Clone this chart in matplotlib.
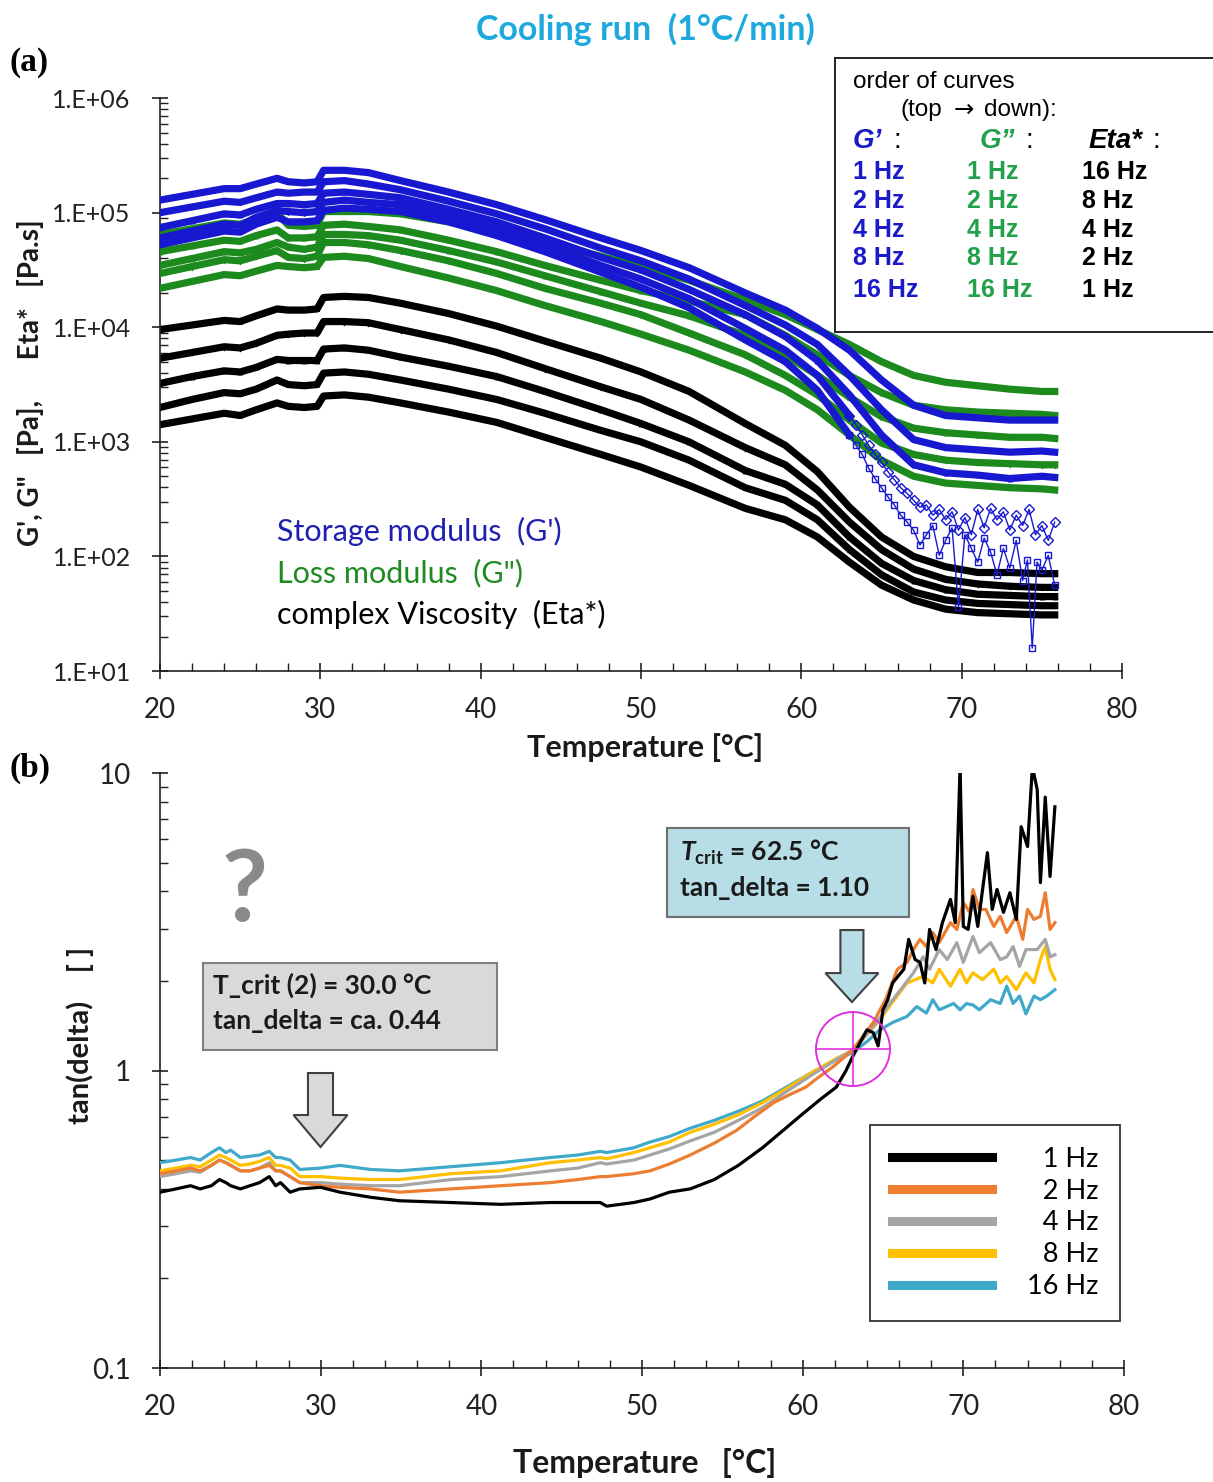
import numpy as np
import matplotlib
matplotlib.use('Agg')
import matplotlib.pyplot as plt
from matplotlib.patches import Rectangle, FancyArrow, Ellipse
from matplotlib.ticker import FuncFormatter, MultipleLocator, LogLocator, NullFormatter, FixedLocator

plt.rcParams['font.family'] = ['Lato', 'DejaVu Sans']
plt.rcParams['mathtext.fontset'] = 'custom'
plt.rcParams['mathtext.it'] = 'Lato:italic:bold'
plt.rcParams['mathtext.rm'] = 'Lato:bold'

# ---------------- panel (a): moduli / viscosity, log10 values
T_a = [20, 22, 24, 25, 26, 27.3, 28, 29, 29.8, 30.2, 31.5, 33, 35, 38, 41, 44, 47.5, 50,
       53, 56.5, 59, 61, 63, 65, 67, 69, 71, 73, 75, 75.8]

# G' (storage modulus), top -> down: 1, 2, 4, 8, 16 Hz
gp_1hz = [5.11, 5.16, 5.21, 5.21, 5.25, 5.30, 5.27, 5.26, 5.27, 5.37, 5.37, 5.35, 5.28, 5.18, 5.07,
          4.94, 4.78, 4.67, 4.52, 4.30, 4.15, 3.99, 3.80, 3.54, 3.32, 3.23, 3.21, 3.19, 3.19, 3.19]
gp_2hz = [5.00, 5.05, 5.10, 5.09, 5.13, 5.18, 5.17, 5.18, 5.18, 5.27, 5.28, 5.25, 5.20, 5.10, 4.99,
          4.86, 4.69, 4.58, 4.42, 4.19, 4.02, 3.85, 3.58, 3.28, 3.02, 2.95, 2.93, 2.91, 2.92, 2.91]
gp_4hz = [4.87, 4.93, 4.99, 4.98, 5.03, 5.08, 5.08, 5.07, 5.08, 5.17, 5.18, 5.16, 5.13, 5.03, 4.92,
          4.78, 4.61, 4.50, 4.33, 4.11, 3.92, 3.71, 3.41, 3.06, 2.80, 2.73, 2.71, 2.68, 2.70, 2.69]
gp_8hz = [4.78, 4.84, 4.90, 4.89, 4.96, 5.02, 5.01, 5.00, 5.01, 5.09, 5.11, 5.09, 5.07, 4.97, 4.86,
          4.72, 4.54, 4.42, 4.25, 3.99, 3.80, 3.58, 3.23]
gp_16hz = [4.72, 4.78, 4.84, 4.83, 4.90, 4.96, 4.92, 4.92, 4.93, 5.02, 5.04, 5.03, 5.01, 4.92, 4.80,
           4.66, 4.48, 4.35, 4.17, 3.89, 3.70, 3.45, 3.06]
tail_T_8hz = [63.4, 63.8, 64.2, 64.6, 65.0, 65.4, 65.8, 66.2, 66.6, 67.0, 67.4, 67.8, 68.2, 68.6,
              69.0, 69.4, 69.8, 70.2, 70.6, 71.0, 71.4, 71.8, 72.2, 72.6, 73.0, 73.4, 73.8, 74.2,
              74.6, 75.0, 75.4, 75.8]
gp_8hz_tail = [3.15, 3.06, 2.97, 2.89, 2.82, 2.74, 2.67, 2.60, 2.55, 2.49, 2.43, 2.45, 2.36, 2.41,
               2.32, 2.39, 2.23, 2.34, 2.19, 2.41, 2.25, 2.42, 2.32, 2.39, 2.23, 2.36, 2.27, 2.41,
               2.19, 2.27, 2.14, 2.30]
tail_T_16hz = [63.4, 63.8, 64.2, 64.6, 65.0, 65.4, 65.8, 66.2, 66.6, 67.0, 67.4, 67.8, 68.2, 68.6,
               69.0, 69.4, 69.8, 70.2, 70.6, 71.0, 71.4, 71.8, 72.2, 72.6, 73.0, 73.4, 73.8, 74.1,
               74.4, 74.7, 75.0, 75.4, 75.8]
gp_16hz_tail = [2.97, 2.89, 2.77, 2.68, 2.60, 2.52, 2.45, 2.36, 2.30, 2.23, 2.10, 2.19, 2.27, 2.01,
                2.14, 2.25, 1.56, 2.19, 2.07, 1.95, 2.16, 2.04, 1.84, 2.07, 1.90, 2.14, 1.79, 1.97,
                1.20, 1.95, 1.88, 2.01, 1.75]

# G'' (loss modulus), top -> down: 1, 2, 4, 8, 16 Hz
gpp_1hz = [4.81, 4.86, 4.91, 4.90, 4.94, 5.00, 4.89, 4.88, 4.89, 5.01, 5.01, 5.01, 4.99, 4.92, 4.83,
           4.74, 4.62, 4.53, 4.41, 4.24, 4.11, 3.98, 3.85, 3.70, 3.58, 3.52, 3.49, 3.46, 3.44, 3.44]
gpp_2hz = [4.66, 4.71, 4.76, 4.75, 4.80, 4.85, 4.78, 4.78, 4.79, 4.89, 4.90, 4.88, 4.85, 4.76, 4.66,
           4.54, 4.41, 4.32, 4.23, 4.11, 3.93, 3.76, 3.58, 3.43, 3.32, 3.28, 3.26, 3.25, 3.24, 3.23]
gpp_4hz = [4.54, 4.60, 4.66, 4.65, 4.68, 4.74, 4.70, 4.68, 4.70, 4.81, 4.81, 4.80, 4.76, 4.67, 4.57,
           4.45, 4.31, 4.21, 4.10, 3.93, 3.76, 3.58, 3.39, 3.22, 3.12, 3.08, 3.06, 3.04, 3.04, 3.03]
gpp_8hz = [4.47, 4.53, 4.59, 4.58, 4.62, 4.67, 4.61, 4.60, 4.62, 4.74, 4.74, 4.72, 4.67, 4.58, 4.47,
           4.34, 4.21, 4.11, 3.95, 3.76, 3.58, 3.41, 3.19, 2.99, 2.89, 2.84, 2.82, 2.81, 2.80, 2.80]
gpp_16hz = [4.34, 4.40, 4.46, 4.45, 4.49, 4.54, 4.53, 4.52, 4.53, 4.61, 4.62, 4.60, 4.53, 4.43, 4.32,
            4.19, 4.05, 3.94, 3.80, 3.61, 3.45, 3.28, 3.06, 2.84, 2.70, 2.64, 2.62, 2.60, 2.59, 2.58]

# Eta* (complex viscosity), top -> down: 16, 8, 4, 2, 1 Hz
eta_16hz = [3.98, 4.02, 4.06, 4.05, 4.10, 4.16, 4.15, 4.15, 4.16, 4.26, 4.27, 4.26, 4.21, 4.12, 4.01,
            3.88, 3.73, 3.61, 3.44, 3.16, 2.97, 2.74, 2.43, 2.17, 2.00, 1.91, 1.86, 1.86, 1.85, 1.85]
eta_8hz = [3.73, 3.78, 3.83, 3.82, 3.86, 3.93, 3.94, 3.95, 3.95, 4.05, 4.05, 4.04, 3.98, 3.89, 3.78,
           3.64, 3.48, 3.37, 3.19, 2.95, 2.80, 2.58, 2.30, 2.06, 1.89, 1.80, 1.76, 1.74, 1.73, 1.73]
eta_4hz = [3.51, 3.57, 3.62, 3.61, 3.65, 3.72, 3.71, 3.71, 3.71, 3.81, 3.82, 3.80, 3.74, 3.66, 3.57,
           3.44, 3.28, 3.16, 3.00, 2.75, 2.63, 2.45, 2.17, 1.94, 1.79, 1.71, 1.67, 1.66, 1.65, 1.65]
eta_2hz = [3.30, 3.37, 3.43, 3.42, 3.46, 3.54, 3.50, 3.49, 3.50, 3.60, 3.61, 3.59, 3.54, 3.46, 3.37,
           3.25, 3.10, 3.00, 2.84, 2.60, 2.49, 2.32, 2.06, 1.84, 1.69, 1.62, 1.59, 1.58, 1.57, 1.57]
eta_1hz = [3.15, 3.20, 3.25, 3.23, 3.28, 3.34, 3.31, 3.30, 3.31, 3.40, 3.41, 3.39, 3.34, 3.26, 3.17,
           3.04, 2.89, 2.78, 2.62, 2.42, 2.32, 2.17, 1.95, 1.75, 1.62, 1.54, 1.51, 1.50, 1.49, 1.49]

# ---------------- panel (b): tan(delta)
td_T_lo = [20.0, 21.0, 21.9, 22.5, 23.2, 23.7, 24.1, 24.4, 25.0, 25.6, 26.2, 26.8, 27.2, 27.5, 28.1,
           28.7, 30.0, 31.2, 33.1, 34.9, 38.1, 41.2, 44.3, 46.0, 47.4, 47.8, 49.5, 50.5, 51.7]
td_1hz_lo = [0.39, 0.40, 0.41, 0.40, 0.41, 0.43, 0.42, 0.41, 0.40, 0.41, 0.42, 0.44, 0.41, 0.42, 0.39,
             0.40, 0.405, 0.39, 0.375, 0.365, 0.36, 0.355, 0.36, 0.36, 0.36, 0.35, 0.36, 0.37, 0.39]
td_2hz_lo = [0.45, 0.46, 0.47, 0.46, 0.48, 0.50, 0.49, 0.48, 0.46, 0.46, 0.47, 0.48, 0.46, 0.46, 0.44,
             0.42, 0.41, 0.405, 0.40, 0.39, 0.40, 0.41, 0.42, 0.43, 0.44, 0.44, 0.45, 0.46, 0.485]
td_4hz_lo = [0.44, 0.45, 0.46, 0.455, 0.48, 0.50, 0.49, 0.48, 0.46, 0.46, 0.47, 0.49, 0.46, 0.46, 0.44,
             0.42, 0.42, 0.415, 0.41, 0.41, 0.43, 0.44, 0.46, 0.47, 0.49, 0.485, 0.50, 0.52, 0.545]
td_8hz_lo = [0.46, 0.47, 0.48, 0.475, 0.50, 0.52, 0.51, 0.50, 0.48, 0.485, 0.495, 0.51, 0.48, 0.48, 0.47,
             0.44, 0.44, 0.435, 0.43, 0.43, 0.45, 0.46, 0.49, 0.50, 0.51, 0.505, 0.53, 0.55, 0.575]
td_16hz_lo = [0.49, 0.50, 0.51, 0.50, 0.53, 0.55, 0.53, 0.54, 0.51, 0.515, 0.52, 0.535, 0.51, 0.51, 0.50,
              0.465, 0.47, 0.48, 0.465, 0.46, 0.475, 0.49, 0.51, 0.52, 0.535, 0.53, 0.55, 0.575, 0.60]

td_1hz_hi_T = [53, 54.5, 56, 57.5, 58.8, 59.8, 61.1, 62.1, 62.7, 63.1, 64.0, 64.4, 64.7, 65.0, 65.3,
               65.6, 66.3, 66.6, 67.0, 67.3, 67.6, 67.9, 68.3, 68.7, 69.2, 69.5, 69.8, 70.0, 70.3,
               70.6, 70.9, 71.5, 71.8, 72.1, 72.5, 72.9, 73.3, 73.6, 74.0, 74.3, 74.6, 74.8, 75.1,
               75.4, 75.7]
td_1hz_hi = [0.40, 0.43, 0.48, 0.55, 0.63, 0.70, 0.80, 0.88, 1.0, 1.11, 1.37, 1.34, 1.21, 1.60, 1.73,
             1.97, 2.19, 2.76, 2.36, 2.31, 1.97, 2.98, 2.55, 3.14, 3.76, 3.14, 10.5, 3.05, 2.98,
             3.85, 3.05, 5.4, 3.48, 4.06, 3.40, 3.96, 3.22, 6.6, 5.66, 10.5, 8.8, 4.28, 8.3,
             4.49, 7.7]
td_2hz_hi_T = [53, 54.5, 55.9, 57.0, 58.2, 59.2, 60.2, 61.0, 61.9, 63.1, 64.4, 65.2, 65.9, 66.5, 66.9,
               67.3, 67.7, 68.1, 68.5, 69.2, 69.6, 70.0, 70.4, 70.6, 71.0, 71.4, 71.9, 72.3, 72.7,
               73.3, 73.7, 74.0, 74.4, 74.8, 75.1, 75.4, 75.7]
td_2hz_hi = [0.52, 0.57, 0.63, 0.70, 0.78, 0.83, 0.88, 0.95, 1.03, 1.17, 1.45, 1.75, 2.19, 2.31, 2.55,
             2.76, 2.61, 2.91, 2.69, 3.14, 2.98, 3.67, 3.40, 4.06, 3.48, 3.48, 3.05, 3.30, 2.91,
             3.30, 2.76, 3.48, 3.22, 3.30, 3.96, 2.98, 3.14]
td_4hz_hi_T = [53, 54.5, 56, 57.5, 59, 60.5, 62, 63.1, 64.0, 64.8, 65.5, 66.2, 66.9, 67.5, 67.9, 68.5,
               69.0, 69.6, 70.0, 70.6, 71.0, 71.7, 72.3, 72.7, 73.1, 73.5, 73.9, 74.6, 75.1, 75.4, 75.7]
td_4hz_hi = [0.58, 0.62, 0.68, 0.75, 0.85, 0.96, 1.08, 1.17, 1.32, 1.50, 1.70, 1.90, 2.13, 2.41, 2.19,
             2.55, 2.36, 2.69, 2.31, 2.82, 2.49, 2.69, 2.36, 2.41, 2.61, 2.24, 2.55, 2.55, 2.76,
             2.41, 2.45]
td_8hz_hi_T = [53, 54.5, 56, 57.5, 59, 60.5, 62, 63.1, 64.0, 64.8, 65.6, 66.5, 67.5, 68.1, 68.5, 69.2,
               69.8, 70.2, 70.6, 71.2, 71.9, 72.3, 72.7, 73.3, 73.9, 74.4, 74.8, 75.1, 75.4, 75.7]
td_8hz_hi = [0.62, 0.66, 0.71, 0.78, 0.87, 0.98, 1.09, 1.17, 1.32, 1.48, 1.70, 1.97, 2.07, 1.97, 2.19,
             1.92, 2.19, 1.97, 2.13, 2.02, 2.19, 1.97, 2.07, 1.87, 2.13, 1.97, 2.36, 2.61, 2.19, 2.02]
td_16hz_hi_T = [53, 54.5, 56, 57.5, 59, 60.5, 62, 63.1, 64.0, 64.8, 65.6, 66.5, 67.1, 67.7, 68.1, 68.5,
                69.4, 69.8, 70.2, 70.6, 71.0, 71.7, 72.3, 72.7, 73.1, 73.5, 73.9, 74.4, 74.8, 75.2, 75.7]
td_16hz_hi = [0.64, 0.68, 0.73, 0.79, 0.88, 0.98, 1.08, 1.15, 1.25, 1.37, 1.45, 1.52, 1.64, 1.56, 1.73,
              1.60, 1.68, 1.60, 1.68, 1.66, 1.60, 1.73, 1.68, 1.92, 1.68, 1.78, 1.55, 1.78, 1.73,
              1.78, 1.87]

freq_labels = ['1 Hz', '2 Hz', '4 Hz', '8 Hz', '16 Hz']
td_colors = ['#000000', '#ed7d31', '#a5a5a5', '#ffc000', '#3fa9c9']

BLUE = '#1818d0'
GREEN = '#1d8a1d'
LW_BAND = 5.2

fig = plt.figure(figsize=(12.13, 14.82), dpi=100)
ax1 = fig.add_axes([0.1319, 0.5472, 0.7931, 0.3866])
ax2 = fig.add_axes([0.1319, 0.0769, 0.7947, 0.4015])

# ---- panel (a) curves
eta_curves = [eta_16hz, eta_8hz, eta_4hz, eta_2hz, eta_1hz]
for vals, mk in zip(eta_curves, ['s', 'd', '^', 'x', 'x']):
    ax1.plot(T_a, 10 ** np.array(vals), color='black', lw=LW_BAND, marker=mk, ms=3.5,
             mfc='none', mew=0.7, zorder=2, solid_joinstyle='round')

gpp_curves = [gpp_1hz, gpp_2hz, gpp_4hz, gpp_8hz, gpp_16hz]
for vals, mk in zip(gpp_curves, ['x', '^', '^', 'd', 's']):
    ax1.plot(T_a, 10 ** np.array(vals), color=GREEN, lw=LW_BAND, marker=mk, ms=3.5,
             mfc='none', mew=0.7, zorder=3, solid_joinstyle='round')

for vals, mk in zip([gp_1hz, gp_2hz, gp_4hz], ['x', 'x', '^']):
    ax1.plot(T_a, 10 ** np.array(vals), color=BLUE, lw=LW_BAND, marker=mk, ms=3.5,
             mfc='none', mew=0.7, zorder=4, solid_joinstyle='round')

for vals, tT, tail, mk in [(gp_8hz, tail_T_8hz, gp_8hz_tail, 'D'),
                            (gp_16hz, tail_T_16hz, gp_16hz_tail, 's')]:
    n = len(vals)
    ax1.plot(T_a[:n], 10 ** np.array(vals), color=BLUE, lw=LW_BAND, marker=mk, ms=3,
             mfc='none', mew=0.7, zorder=4, solid_joinstyle='round')
    ax1.plot(T_a[n - 1:n] + tT, 10 ** np.array(vals[-1:] + tail), color=BLUE, lw=1.0,
             marker=mk, ms=5, mfc='none', mew=1.0, zorder=4)

ax1.set_yscale('log')
ax1.set_xlim(20, 80)
ax1.set_ylim(10, 1e6)
ax1.yaxis.set_major_locator(LogLocator(base=10, numticks=10))
ax1.yaxis.set_minor_locator(LogLocator(base=10, subs=np.arange(2, 10), numticks=50))
ax1.yaxis.set_minor_formatter(NullFormatter())
ax1.yaxis.set_major_formatter(FuncFormatter(lambda v, p: '1.E+%02d' % int(round(np.log10(v)))))

# ---- panel (b) curves
td_lo = [td_1hz_lo, td_2hz_lo, td_4hz_lo, td_8hz_lo, td_16hz_lo]
td_hi_T = [td_1hz_hi_T, td_2hz_hi_T, td_4hz_hi_T, td_8hz_hi_T, td_16hz_hi_T]
td_hi = [td_1hz_hi, td_2hz_hi, td_4hz_hi, td_8hz_hi, td_16hz_hi]
lines = {}
for i in [4, 3, 2, 1, 0]:
    ln, = ax2.plot(td_T_lo + td_hi_T[i], td_lo[i] + td_hi[i], color=td_colors[i], lw=2.3,
                   zorder=3 + (4 - i) * 0.1, label=freq_labels[i])
    lines[i] = ln

ax2.set_yscale('log')
ax2.set_xlim(20, 80)
ax2.set_ylim(0.1, 10)
ax2.yaxis.set_major_locator(FixedLocator([0.1, 1, 10]))
ax2.yaxis.set_major_formatter(FuncFormatter(lambda v, p: '%g' % v))
ax2.yaxis.set_minor_locator(LogLocator(base=10, subs=np.arange(2, 10), numticks=50))
ax2.yaxis.set_minor_formatter(NullFormatter())

for ax in (ax1, ax2):
    ax.xaxis.set_major_locator(MultipleLocator(10))
    ax.xaxis.set_minor_locator(MultipleLocator(2))
    ax.spines['top'].set_visible(False)
    ax.spines['right'].set_visible(False)
    for s in ('left', 'bottom'):
        ax.spines[s].set_linewidth(1.2)
        ax.spines[s].set_color('#222222')
    ax.tick_params(which='major', direction='inout', length=12, width=1.2, color='#222222')
    ax.tick_params(which='minor', direction='in', length=6, width=1.0, color='#222222')
    ax.tick_params(axis='x', which='major', labelsize=20, pad=13, labelcolor='#222222')
    ax.tick_params(axis='y', which='major', labelsize=18, pad=15, labelcolor='#222222')
ax2.tick_params(axis='y', which='major', labelsize=20)

# ---- panel (b) legend (labels right-aligned with figure spaces)
handles = [lines[i] for i in range(5)]
leg_labels = ['\u2007' + s if len(s) == 4 else s for s in freq_labels]
leg = ax2.legend(handles, leg_labels, loc='upper right', bbox_to_anchor=(0.996, 0.408),
                 fontsize=19.5, frameon=True, fancybox=False, edgecolor='black',
                 handlelength=3.7, handletextpad=1.3, labelspacing=0.25, borderpad=0.8,
                 borderaxespad=0)
leg.get_frame().set_linewidth(1.3)
for lh in leg.get_lines():
    lh.set_linewidth(6.5)

# ---- panel (b) annotations
ax2.text(0.088, 0.800, '?', transform=ax2.transAxes, fontsize=72, fontweight='bold',
         color='#8a8a8a', ha='center', va='center')
ax2.add_patch(Rectangle((0.0446, 0.5345), 0.305, 0.1462, transform=ax2.transAxes,
                        facecolor='#d9d9d9', edgecolor='#7f7f7f', lw=1.5, zorder=5))
ax2.text(0.055, 0.643, 'T_crit (2) = 30.0 °C', transform=ax2.transAxes, fontsize=19,
         fontweight='bold', color='#1a1a1a', va='center', zorder=6)
ax2.text(0.055, 0.584, 'tan_delta = ca. 0.44', transform=ax2.transAxes, fontsize=19,
         fontweight='bold', color='#1a1a1a', va='center', zorder=6)
ax2.add_patch(FancyArrow(0.1665, 0.4958, 0, -0.1244, width=0.026, head_width=0.056,
                         head_length=0.0538, length_includes_head=True, transform=ax2.transAxes,
                         facecolor='#d9d9d9', edgecolor='#404040', lw=1.5, zorder=5))

ax2.add_patch(Rectangle((0.526, 0.758), 0.251, 0.1496, transform=ax2.transAxes,
                        facecolor='#b7dde6', edgecolor='#6f6f6f', lw=1.5, zorder=5))
ax2.text(0.539, 0.866, r'$T_{\mathrm{crit}}$ = 62.5 °C', transform=ax2.transAxes, fontsize=19,
         fontweight='bold', color='#1a1a1a', va='center', zorder=6)
ax2.text(0.539, 0.807, 'tan_delta = 1.10', transform=ax2.transAxes, fontsize=19,
         fontweight='bold', color='#1a1a1a', va='center', zorder=6)
ax2.add_patch(FancyArrow(0.7178, 0.7361, 0, -0.121, width=0.0239, head_width=0.055,
                         head_length=0.0487, length_includes_head=True, transform=ax2.transAxes,
                         facecolor='#b7dde6', edgecolor='#404040', lw=1.5, zorder=5))

cx, cy, rw, rh = 0.7189, 0.5361, 0.0384, 0.0622
ax2.add_patch(Ellipse((cx, cy), 2 * rw, 2 * rh, transform=ax2.transAxes, fill=False,
                      edgecolor='#e030e0', lw=1.4, zorder=8))
ax2.plot([cx - rw, cx + rw], [cy, cy], transform=ax2.transAxes, color='#e030e0', lw=1.2, zorder=8)
ax2.plot([cx, cx], [cy - rh, cy + rh], transform=ax2.transAxes, color='#e030e0', lw=1.2, zorder=8)

# ---- figure texts
fig.text(0.5317, 0.9798, 'Cooling run  (1°C/min)', fontsize=24.5, fontweight='bold',
         color='#1ea9de', ha='center', va='center')
fig.text(0.008, 0.958, '(a)', fontsize=24, fontweight='bold', family='Liberation Serif',
         ha='left', va='center')
fig.text(0.008, 0.4818, '(b)', fontsize=24, fontweight='bold', family='Liberation Serif',
         ha='left', va='center')
fig.text(0.025, 0.7416, "G', G\"   [Pa],      Eta*   [Pa.s]", rotation=90, fontsize=20,
         fontweight='bold', color='#1a1a1a', ha='center', va='center')
fig.text(0.5317, 0.4953, 'Temperature [°C]', fontsize=22, fontweight='bold', color='#1a1a1a',
         ha='center', va='center')
fig.text(0.066, 0.3016, 'tan(delta)    [ ]', rotation=90, fontsize=21, fontweight='bold',
         color='#1a1a1a', ha='center', va='center')
fig.text(0.5317, 0.0128, 'Temperature   [°C]', fontsize=23, fontweight='bold', color='#1a1a1a',
         ha='center', va='center')

fig.text(0.2284, 0.6417, "Storage modulus  (G')", fontsize=22, color='#1f1fb0', va='center')
fig.text(0.2284, 0.6134, 'Loss modulus  (G")', fontsize=22, color='#1f8a1f', va='center')
fig.text(0.2284, 0.5857, 'complex Viscosity  (Eta*)', fontsize=22, color='black', va='center')

# order-of-curves box
fig.add_artist(Rectangle((0.6884, 0.776), 0.32, 0.1849, transform=fig.transFigure,
                         facecolor='white', edgecolor='#222222', lw=1.4))
box_font = ['Liberation Sans', 'DejaVu Sans']
fig.text(0.7032, 0.9447, 'order of curves', fontsize=17.5, family=box_font, va='center')
fig.text(0.742, 0.9258, '(top', fontsize=17.5, family=box_font, va='center')
fig.text(0.7865, 0.9258, '\u2192', fontsize=17.5, family='DejaVu Sans', va='center')
fig.text(0.8115, 0.9258, 'down):', fontsize=17.5, family=box_font, va='center')
for x, s, c in [(0.7032, 'G\u2019', '#1a1ac8'), (0.8079, 'G\u201d', '#22a04a'),
                (0.897, 'Eta*', 'black')]:
    fig.text(x, 0.9049, s, fontsize=20, family=box_font, fontweight='bold',
             fontstyle='italic', color=c, va='center')
for x in (0.7362, 0.8458, 0.9505):
    fig.text(x, 0.9049, ':', fontsize=20, family=box_font, color='black', va='center')
row_y = [0.8839, 0.8644, 0.8448, 0.8259, 0.8044]
for k, y in enumerate(row_y):
    fig.text(0.7032, y, freq_labels[k], fontsize=18, family=box_font, fontweight='bold',
             color='#1a1ac8', va='center')
    fig.text(0.7972, y, freq_labels[k], fontsize=18, family=box_font, fontweight='bold',
             color='#22a04a', va='center')
    fig.text(0.892, y, freq_labels[4 - k], fontsize=18, family=box_font, fontweight='bold',
             color='black', va='center')

fig.savefig('out.png', dpi=100)
